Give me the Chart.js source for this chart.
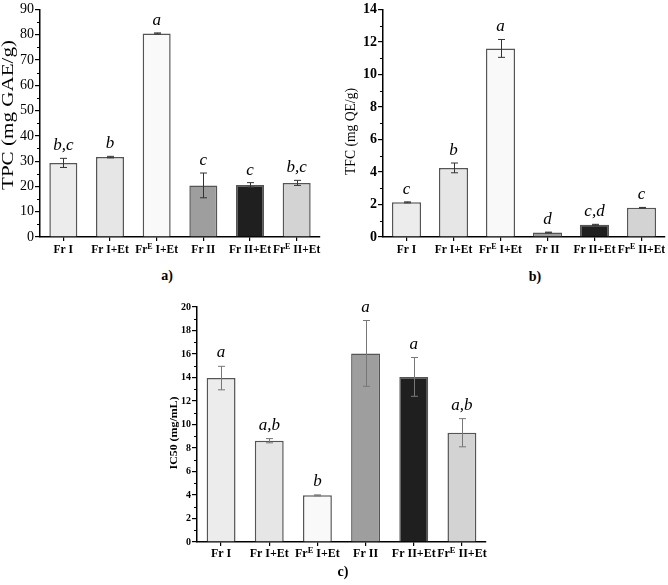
<!DOCTYPE html>
<html>
<head>
<meta charset="utf-8">
<script src="https://cdn.jsdelivr.net/npm/chart.js@4.4.0/dist/chart.umd.min.js"></script>
<style>
  body { margin: 0; background: #fff; }
  #wrap { position: relative; width: 668px; height: 585px; overflow: hidden; background: #fff; }
  canvas { position: absolute; }
  .cap { position: absolute; font: bold 14px "Liberation Serif", serif; color: #000; transform: translate(-50%, -50%); }
</style>
</head>
<body>
<div id="wrap">
  <canvas id="chartA" width="334" height="262" style="left:0;top:0"></canvas>
  <canvas id="chartB" width="334" height="262" style="left:334px;top:0"></canvas>
  <canvas id="chartC" width="380" height="280" style="left:150px;top:290px"></canvas>
  <div class="cap" style="left:167px;top:276px">a)</div>
  <div class="cap" style="left:535px;top:277px">b)</div>
  <div class="cap" style="left:343px;top:572px">c)</div>
</div>
<script>
const categories = ["Fr I", "Fr I+Et", "Fr^E I+Et", "Fr II", "Fr II+Et", "Fr^E II+Et"];

const tpcValues = [29.3, 31.6, 80.5, 20.4, 20.6, 21.4];
const tpcErrors = [1.8, 0.3, 0.2, 4.9, 0.9, 1.0];
const tpcLetters = ["b,c", "b", "a", "c", "c", "b,c"];

const tfcValues = [2.13, 4.25, 11.6, 0.28, 0.75, 1.8];
const tfcErrors = [0.03, 0.3, 0.55, 0.02, 0.03, 0.02];
const tfcLetters = ["c", "b", "a", "d", "c,d", "c"];

const ic50Values = [13.95, 8.62, 3.97, 16.05, 14.05, 9.3];
const ic50Errors = [1.0, 0.18, 0.04, 2.8, 1.65, 1.2];
const ic50Letters = ["a", "a,b", "b", "a", "a", "a,b"];

const barColors = ["#ececec", "#e6e6e6", "#f9f9f9", "#9e9e9e", "#1f1f1f", "#d3d3d3"];
const SERIF = "'Liberation Serif', 'Times New Roman', serif";

// extra drawing Chart.js has no option for: minor ticks, error bars, letters,
// superscripted category labels and the stretched axis title
const panelPlugin = {
  id: "panelExtras",
  afterDraw(chart) {
    const p = chart.options.plugins.panelExtras;
    const { ctx, chartArea, scales } = chart;
    const x = scales.x;
    const y = scales.y;
    ctx.save();

    // minor ticks on y
    ctx.strokeStyle = "#000";
    ctx.lineWidth = 1;
    for (let v = p.yStep / 2; v < p.yMax; v += p.yStep) {
      const py = Math.round(y.getPixelForValue(v)) + 0.5;
      ctx.beginPath();
      ctx.moveTo(chartArea.left - 3, py);
      ctx.lineTo(chartArea.left, py);
      ctx.stroke();
    }

    // error bars
    const meta = chart.getDatasetMeta(0);
    ctx.strokeStyle = p.errColor;
    ctx.lineWidth = 1;
    p.values.forEach((v, i) => {
      const bx = Math.round(meta.data[i].x) + 0.5;
      const top = y.getPixelForValue(v + p.errors[i]);
      const bot = y.getPixelForValue(v - p.errors[i]);
      ctx.beginPath();
      ctx.moveTo(bx, top);
      ctx.lineTo(bx, bot);
      ctx.moveTo(bx - 3.5, top);
      ctx.lineTo(bx + 3.5, top);
      ctx.moveTo(bx - 3.5, bot);
      ctx.lineTo(bx + 3.5, bot);
      ctx.stroke();
    });

    // significance letters
    ctx.fillStyle = "#000";
    ctx.font = p.letterFont;
    ctx.textAlign = "center";
    ctx.textBaseline = "alphabetic";
    p.letters.forEach((t, i) => {
      const bx = meta.data[i].x;
      const top = y.getPixelForValue(p.values[i] + p.errors[i]);
      ctx.fillText(t, bx, top - p.letterGap);
    });

    // category labels with superscript E
    ctx.textAlign = "left";
    const base = chartArea.bottom + p.labelDrop;
    categories.forEach((label, i) => {
      const cx = x.getPixelForValue(i);
      const parts = label.split("^E");
      ctx.font = p.labelFont;
      const w0 = ctx.measureText(parts[0]).width;
      let w1 = 0, w2 = 0;
      if (parts.length > 1) {
        ctx.font = p.supFont;
        w1 = ctx.measureText("E").width;
        ctx.font = p.labelFont;
        w2 = ctx.measureText(parts[1]).width;
      }
      let sx = cx - (w0 + w1 + w2) / 2;
      ctx.font = p.labelFont;
      ctx.fillText(parts[0], sx, base);
      if (parts.length > 1) {
        sx += w0;
        ctx.font = p.supFont;
        ctx.fillText("E", sx, base - 4.5);
        sx += w1;
        ctx.font = p.labelFont;
        ctx.fillText(parts[1], sx, base);
      }
    });

    // y title
    ctx.font = p.titleFont;
    const tw = ctx.measureText(p.title).width;
    ctx.translate(p.titleX, p.titleY);
    ctx.rotate(-Math.PI / 2);
    ctx.scale(p.titleLen / tw, 1);
    ctx.textAlign = "center";
    ctx.textBaseline = "middle";
    ctx.fillText(p.title, 0, 0);
    ctx.restore();
  }
};

function buildPanel(id, p) {
  return new Chart(document.getElementById(id), {
    type: "bar",
    data: {
      labels: categories,
      datasets: [{
        data: p.values,
        backgroundColor: barColors,
        borderColor: "#555",
        borderWidth: 1.5,
        barPercentage: p.barPct,
        categoryPercentage: 1
      }]
    },
    options: {
      responsive: false,
      animation: false,
      devicePixelRatio: 1,
      layout: { padding: p.padding },
      plugins: {
        legend: { display: false },
        tooltip: { enabled: false },
        panelExtras: p
      },
      scales: {
        x: {
          grid: { drawOnChartArea: false, offset: false, color: "#000", lineWidth: 1.2, tickLength: 4 },
          border: { color: "#000", width: 1.5 },
          ticks: { display: false },
          afterFit: (s) => { s.height = p.xAxisH; }
        },
        y: {
          min: 0,
          max: p.yMax,
          ticks: { stepSize: p.yStep, color: "#000", font: p.tickFont, padding: 1 },
          grid: { drawOnChartArea: false, color: "#000", lineWidth: 1.2, tickLength: 5 },
          border: { color: "#000", width: 1.5 },
          afterFit: (s) => { s.width = p.yAxisW; }
        }
      }
    },
    plugins: [panelPlugin]
  });
}

buildPanel("chartA", {
  values: tpcValues, errors: tpcErrors, letters: tpcLetters,
  yMax: 90, yStep: 10, barPct: 0.6,
  padding: { top: 9, right: 14, left: 0, bottom: 0 }, yAxisW: 40, xAxisH: 25,
  tickFont: { family: SERIF, size: 14 },
  letterFont: "italic 17px " + SERIF, letterGap: 8,
  labelFont: "bold 11.5px " + SERIF, supFont: "bold 8px " + SERIF, labelDrop: 16,
  errColor: "#333",
  title: "TPC (mg GAE/g)", titleFont: "16px " + SERIF, titleX: 9, titleY: 115, titleLen: 150
});

buildPanel("chartB", {
  values: tfcValues, errors: tfcErrors, letters: tfcLetters,
  yMax: 14, yStep: 2, barPct: 0.62,
  padding: { top: 7, right: 3, left: 0, bottom: 0 }, yAxisW: 49, xAxisH: 25,
  tickFont: { family: SERIF, size: 14, weight: "bold" },
  letterFont: "italic 17px " + SERIF, letterGap: 8,
  labelFont: "bold 11.5px " + SERIF, supFont: "bold 8px " + SERIF, labelDrop: 16,
  errColor: "#333",
  title: "TFC (mg QE/g)", titleFont: "14px " + SERIF, titleX: 17.5, titleY: 131.5, titleLen: 87
});

buildPanel("chartC", {
  values: ic50Values, errors: ic50Errors, letters: ic50Letters,
  yMax: 20, yStep: 2, barPct: 0.6,
  padding: { top: 17, right: 44, left: 0, bottom: 0 }, yAxisW: 47, xAxisH: 28,
  tickFont: { family: SERIF, size: 10, weight: "bold" },
  letterFont: "italic 17px " + SERIF, letterGap: 9,
  labelFont: "bold 12px " + SERIF, supFont: "bold 8.5px " + SERIF, labelDrop: 15,
  errColor: "#777",
  title: "IC50 (mg/mL)", titleFont: "bold 11px " + SERIF, titleX: 23.7, titleY: 143, titleLen: 73
});
</script>
</body>
</html>
